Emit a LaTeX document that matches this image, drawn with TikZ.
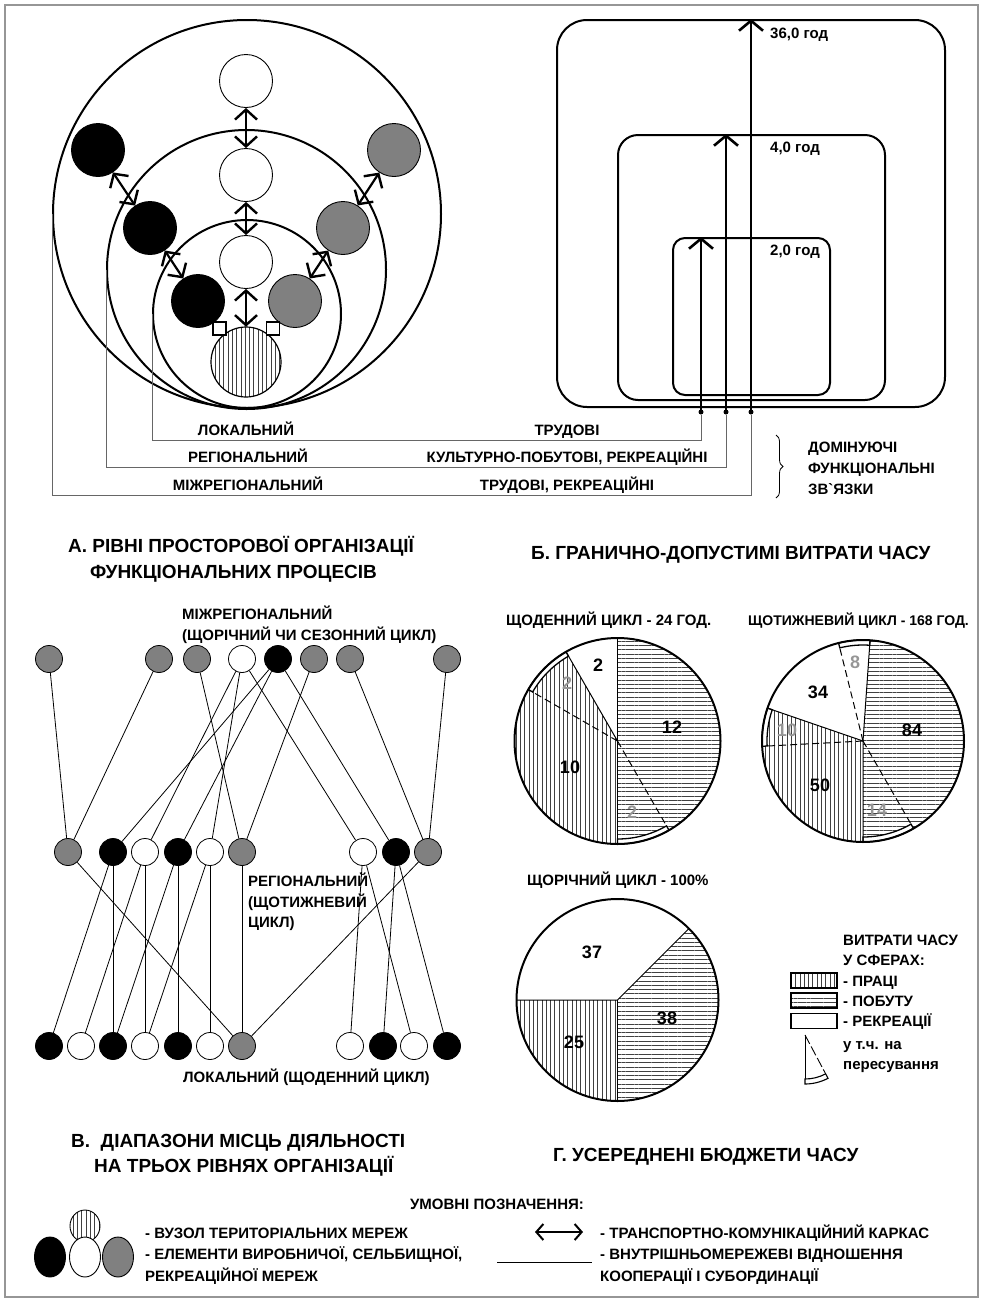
\documentclass[tikz,border=0pt]{standalone}
\usepackage{fontspec}
\setmainfont{Liberation Sans}
\usetikzlibrary{arrows.meta,patterns.meta,decorations.pathreplacing,calc,shapes.geometric}
\definecolor{nodegray}{RGB}{128,128,128}
\definecolor{framegray}{RGB}{150,150,150}
\definecolor{numgray}{RGB}{150,150,150}
\newcommand\lblfont{\fontsize{15}{17}\selectfont\bfseries}
\newcommand\smlfont{\fontsize{14}{16}\selectfont\bfseries}
\newcommand\headfont{\fontsize{19}{22}\selectfont\bfseries}
\newcommand\numfont{\fontsize{18}{20}\selectfont\bfseries}
\tikzset{
 vpat/.style={pattern={Lines[angle=90,distance=4.3pt,line width=0.55pt]}, pattern color=black!75},
 hpat/.style={pattern={Lines[angle=0,distance=4.3pt,line width=0.55pt]}, pattern color=black!75},
 bigc/.style={circle, draw, line width=2pt, inner sep=0pt},
 smw/.style={circle, draw, line width=0.9pt, fill=white, minimum size=53pt, inner sep=0pt},
 smb/.style={smw, fill=black},
 smg/.style={smw, fill=nodegray},
 hubc/.style={circle, draw, line width=1.2pt, minimum size=70pt, inner sep=0pt, vpat},
 dbl/.style={line width=2.2pt, {Straight Barb[length=10pt,width=22pt,line width=2.4pt]}-{Straight Barb[length=10pt,width=22pt,line width=2.4pt]}},
 sqn/.style={draw, line width=1.8pt, fill=white, minimum size=13pt, inner sep=0pt},
 rbox/.style={draw, line width=2pt, inner sep=0pt},
 uparr/.style={line width=2.6pt, -{Straight Barb[length=10pt,width=24pt,line width=2.6pt]}},
 dotn/.style={circle, fill=black, minimum size=5pt, inner sep=0pt},
 conn/.style={line width=0.9pt, black!60},
 lbl/.style={font=\lblfont, inner sep=0pt, text height=11pt, text depth=0pt},
 lblw/.style={lbl, anchor=west},
 slblw/.style={lblw, font=\smlfont},
 head/.style={font=\headfont, inner sep=0pt, text height=13.5pt, text depth=0pt, anchor=west},
 num/.style={font=\numfont, inner sep=0pt, text height=13pt, text depth=0pt},
 gnum/.style={num, text=numgray},
 nw/.style={circle, draw, line width=0.8pt, fill=white, minimum size=27pt, inner sep=0pt},
 nb/.style={nw, fill=black},
 ng/.style={nw, fill=nodegray},
 net/.style={line width=0.8pt},
 pieline/.style={line width=1pt},
 piedash/.style={line width=1pt, dash pattern=on 7pt off 4pt},
 band/.style={line width=1.3pt, fill=white},
 pierim/.style={line width=2pt},
 ell/.style={ellipse, draw, line width=0.9pt, inner sep=0pt},
}
\begin{document}
\begin{tikzpicture}[x=1pt,y=-1pt]
\useasboundingbox (0,0) rectangle (981,1299);
\draw[framegray, line width=1.5pt] (5,5) rectangle (978,1297);

% ---------------- A: nested circles ----------------
\node[bigc, minimum size=388pt] (outerC) at (247,214) {};
\node[bigc, minimum size=279pt] (midC) at (246.5,269.5) {};
\node[bigc, minimum size=188pt] (innC) at (247,314) {};

\node[smw] (w1) at (246,81) {};
\node[smw] (w2) at (246,175) {};
\node[smw] (w3) at (246,262) {};
\node[hubc] (hub) at (246,362) {};
\node[smb] (b1) at (98,150) {};
\node[smb] (b2) at (150,228) {};
\node[smb] (b3) at (198,301) {};
\node[smg] (g1) at (394,150) {};
\node[smg] (g2) at (343,228) {};
\node[smg] (g3) at (295,301) {};

\draw[dbl] (w1) -- (w2);
\draw[dbl] (w2) -- (w3);
\draw[dbl] (w3) -- (hub);
\draw[dbl] (b1) -- (b2);
\draw[dbl] (b2) -- (b3);
\draw[dbl] (g1) -- (g2);
\draw[dbl] (g2) -- (g3);
\draw[line width=1.8pt] (b3) -- (hub);
\draw[line width=1.8pt] (g3) -- (hub);
\node[sqn] (sq1) at ($(hub)!43pt!(b3)$) {};
\node[sqn] (sq2) at ($(hub)!43pt!(g3)$) {};

% ---------------- Б: time boxes ----------------
\node[rbox, rounded corners=30pt, minimum width=388pt, minimum height=387pt] (outR) at (751,213.5) {};
\node[rbox, rounded corners=20pt, minimum width=267pt, minimum height=265pt] (midR) at (751.5,267.5) {};
\node[rbox, rounded corners=12pt, minimum width=157pt, minimum height=157pt] (innR) at (751.5,316.5) {};

\node[dotn] (d1) at (701,412) {};
\node[dotn] (d2) at (726,412) {};
\node[dotn] (d3) at (751,412) {};
\draw[uparr] (d1.center) -- (d1 |- innR.north);
\draw[uparr] (d2.center) -- (d2 |- midR.north);
\draw[uparr] (d3.center) -- (d3 |- outR.north);

\node[lblw] (t36) at (770,33) {36,0 год};
\node[lblw] (t4) at (770,147) {4,0 год};
\node[lblw] (t2) at (770,250) {2,0 год};

% connectors from circles to the boxes
\coordinate (k1) at (701,440);
\coordinate (k2) at (726,467);
\coordinate (k3) at (751,495);
\draw[conn] (innC.west) -- (innC.west |- k1) -- (k1) -- (d1);
\draw[conn] (midC.west) -- (midC.west |- k2) -- (k2) -- (d2);
\draw[conn] (outerC.west) -- (outerC.west |- k3) -- (k3) -- (d3);

\node[lbl] (lv1) at (246,430) {ЛОКАЛЬНИЙ};
\node[lbl] (lv2) at (248,457) {РЕГІОНАЛЬНИЙ};
\node[lbl] (lv3) at (248,485) {МІЖРЕГІОНАЛЬНИЙ};
\node[lbl] (fn1) at (567,430) {ТРУДОВІ};
\node[lbl] (fn2) at (567,457) {КУЛЬТУРНО-ПОБУТОВІ, РЕКРЕАЦІЙНІ};
\node[lbl] (fn3) at (567,485) {ТРУДОВІ, РЕКРЕАЦІЙНІ};

\coordinate (br1) at (776,435);
\coordinate (br2) at (776,498);
\draw[line width=0.8pt, decorate, decoration={brace, amplitude=7pt}] (br1) -- (br2);
\node[lblw] (dm1) at (808,447) {ДОМІНУЮЧІ};
\node[lblw] (dm2) at (808,468) {ФУНКЦІОНАЛЬНІ};
\node[lblw] (dm3) at (808,489) {ЗВ\textasciigrave ЯЗКИ};

% headings
\node[head] (hA1) at (68,546) {А. РІВНІ ПРОСТОРОВОЇ ОРГАНІЗАЦІЇ};
\node[head] (hA2) at (90,572) {ФУНКЦІОНАЛЬНИХ ПРОЦЕСІВ};
\node[head] (hB) at (531,553) {Б. ГРАНИЧНО-ДОПУСТИМІ ВИТРАТИ ЧАСУ};

% ---------------- В: network ----------------
\foreach \n/\x/\s in {t1/49/ng, t2/159/ng, t3/197/ng, t4/242/nw, t5/278/nb, t6/314/ng, t7/350/ng, t8/447/ng}
  \node[\s] (\n) at (\x,659) {};
\foreach \n/\x/\s in {m1/68/ng, m2/113/nb, m3/145/nw, m4/178/nb, m5/210/nw, m6/242/ng, m7/363/nw, m8/396/nb, m9/428/ng}
  \node[\s] (\n) at (\x,852) {};
\foreach \n/\x/\s in {l1/49/nb, l2/81/nw, l3/113/nb, l4/145/nw, l5/178/nb, l6/210/nw, l7/242/ng, l8/350/nw, l9/383/nb, l10/414/nw, l11/447/nb}
  \node[\s] (\n) at (\x,1046) {};
\foreach \a/\b in {t1/m1, t2/m1, t3/m6, t4/m3, t4/m5, t4/m7, t5/m2, t5/m4, t5/m8, t6/m6, t7/m9, t8/m9,
  m1/l7, m2/l1, m2/l3, m3/l2, m3/l4, m4/l3, m4/l5, m5/l4, m5/l6, m6/l7, m9/l7, m7/l8, m7/l10, m8/l9, m8/l11}
  \draw[net] (\a) -- (\b);

\node[lblw] (nA) at (182,614) {МІЖРЕГІОНАЛЬНИЙ};
\node[lblw] (nB) at (182,635) {(ЩОРІЧНИЙ ЧИ СЕЗОННИЙ ЦИКЛ)};
\node[lblw] (nC) at (248,881) {РЕГІОНАЛЬНИЙ};
\node[lblw] (nD) at (248,902) {(ЩОТИЖНЕВИЙ};
\node[lblw] (nE) at (248,922) {ЦИКЛ)};
\node[lblw] (nF) at (183,1077) {ЛОКАЛЬНИЙ (ЩОДЕННИЙ ЦИКЛ)};

% ---------------- Г: pies ----------------
\node[lblw] (p1t) at (506,620) {ЩОДЕННИЙ ЦИКЛ - 24 ГОД.};
\node[slblw] (p2t) at (748,620) {ЩОТИЖНЕВИЙ ЦИКЛ - 168 ГОД.};
\node[lblw] (p3t) at (527,880) {ЩОРІЧНИЙ ЦИКЛ - 100\%};

% pie 1
\begin{scope}[shift={(617.5,741)}, yscale=-1]
  \fill[hpat] (0,0) -- (-90:103) arc[start angle=-90, end angle=90, radius=103] -- cycle;
  \fill[vpat] (0,0) -- (120:103) arc[start angle=120, end angle=270, radius=103] -- cycle;
  \filldraw[band] (120:103) arc[start angle=120, end angle=150, radius=103] -- (150:98) arc[start angle=150, end angle=120, radius=98] -- cycle;
  \filldraw[band] (-90:103) arc[start angle=-90, end angle=-60, radius=103] -- (-60:98) arc[start angle=-60, end angle=-90, radius=98] -- cycle;
  \draw[pieline] (90:103) -- (0,0) -- (270:103);
  \draw[pieline] (0,0) -- (120:103);
  \draw[piedash] (0,0) -- (150:98);
  \draw[piedash] (0,0) -- (-60:98);
  \draw[pierim] (0,0) circle[radius=103];
\end{scope}
\node[num] (p1a) at (672,727) {12};
\node[gnum] (p1b) at (632,812) {2};
\node[num] (p1c) at (570,767) {10};
\node[gnum] (p1d) at (567,683) {2};
\node[num] (p1e) at (598,665) {2};

% pie 2
\begin{scope}[shift={(863,741)}, yscale=-1]
  \fill[hpat] (0,0) -- (-90:101) arc[start angle=-90, end angle=86, radius=101] -- cycle;
  \fill[vpat] (0,0) -- (161:101) arc[start angle=161, end angle=270, radius=101] -- cycle;
  \filldraw[band] (86:101) arc[start angle=86, end angle=104, radius=101] -- (104:96) arc[start angle=104, end angle=86, radius=96] -- cycle;
  \filldraw[band] (161:101) arc[start angle=161, end angle=183, radius=101] -- (183:96) arc[start angle=183, end angle=161, radius=96] -- cycle;
  \filldraw[band] (-90:101) arc[start angle=-90, end angle=-60, radius=101] -- (-60:96) arc[start angle=-60, end angle=-90, radius=96] -- cycle;
  \draw[pieline] (86:101) -- (0,0) -- (270:101);
  \draw[pieline] (0,0) -- (161:101);
  \draw[piedash] (0,0) -- (104:96);
  \draw[piedash] (0,0) -- (183:96);
  \draw[piedash] (0,0) -- (-60:96);
  \draw[pierim] (0,0) circle[radius=101];
\end{scope}
\node[num] (p2a) at (912,730) {84};
\node[num] (p2b) at (818,692) {34};
\node[gnum] (p2c) at (855,662) {8};
\node[gnum] (p2d) at (787,730) {10};
\node[num] (p2e) at (820,785) {50};
\node[gnum] (p2f) at (877,810) {14};

% pie 3
\begin{scope}[shift={(617.5,1000)}, yscale=-1]
  \fill[vpat] (0,0) -- (180:101) arc[start angle=180, end angle=270, radius=101] -- cycle;
  \fill[hpat] (0,0) -- (-90:101) arc[start angle=-90, end angle=45, radius=101] -- cycle;
  \draw[pieline] (45:101) -- (0,0) -- (180:101);
  \draw[pieline] (0,0) -- (270:101);
  \draw[pierim] (0,0) circle[radius=101];
\end{scope}
\node[num] (p3a) at (592,952) {37};
\node[num] (p3b) at (667,1018) {38};
\node[num] (p3c) at (574,1042) {25};

% legend of pies
\node[lblw] (lg1) at (843,940) {ВИТРАТИ ЧАСУ};
\node[lblw] (lg2) at (843,960) {У СФЕРАХ:};
\node[draw, line width=1.2pt, minimum width=46pt, minimum height=15pt, inner sep=0pt, vpat] (bx1) at (814,980.5) {};
\node[draw, line width=1.2pt, minimum width=46pt, minimum height=15pt, inner sep=0pt, hpat] (bx2) at (814,1000.5) {};
\node[draw, line width=1.2pt, minimum width=46pt, minimum height=15pt, inner sep=0pt] (bx3) at (814,1021) {};
\node[lblw] (lg3) at (843,981) {- ПРАЦІ};
\node[lblw] (lg4) at (843,1001) {- ПОБУТУ};
\node[lblw] (lg5) at (843,1021) {- РЕКРЕАЦІЇ};
\node[lblw] (lg6) at (843,1044) {у т.ч. на};
\node[lblw] (lg7) at (843,1064) {пересування};
\begin{scope}[shift={(805,1035)}, yscale=-1]
  \draw[line width=0.9pt] (0,0) -- (-90:44);
  \draw[line width=0.9pt, dash pattern=on 10pt off 3pt] (0,0) -- (-62:44);
  \filldraw[band, line width=1.1pt] (-90:49) arc[start angle=-90, end angle=-62, radius=49] -- (-62:44) arc[start angle=-62, end angle=-90, radius=44] -- cycle;
\end{scope}

% ---------------- bottom headings & legend ----------------
\node[head] (hV1) at (71,1141) {В.\ \ ДІАПАЗОНИ МІСЦЬ ДІЯЛЬНОСТІ};
\node[head] (hV2) at (94,1166) {НА ТРЬОХ РІВНЯХ ОРГАНІЗАЦІЇ};
\node[head] (hG) at (553,1155) {Г. УСЕРЕДНЕНІ БЮДЖЕТИ ЧАСУ};
\node[lbl] (um) at (497,1204) {УМОВНІ ПОЗНАЧЕННЯ:};

\node[ell, minimum width=30pt, minimum height=32pt, vpat] (eh) at (85,1226) {};
\node[ell, fill=black, minimum width=31pt, minimum height=40pt] (eb) at (50,1257) {};
\node[ell, fill=white, minimum width=31pt, minimum height=40pt] (ew) at (85,1257) {};
\node[ell, fill=nodegray, minimum width=31pt, minimum height=40pt] (eg) at (118,1257) {};
\node[lblw] (le1) at (145,1233) {- ВУЗОЛ ТЕРИТОРІАЛЬНИХ МЕРЕЖ};
\node[lblw] (le2) at (145,1254) {- ЕЛЕМЕНТИ ВИРОБНИЧОЇ, СЕЛЬБИЩНОЇ,};
\node[lblw] (le3) at (145,1276) {РЕКРЕАЦІЙНОЇ МЕРЕЖ};

\coordinate (aa) at (535,1232);
\coordinate (ab) at (583,1232);
\draw[line width=1.8pt, {Straight Barb[length=7pt,width=16pt,line width=2pt]}-{Straight Barb[length=7pt,width=16pt,line width=2pt]}] (aa) -- (ab);
\coordinate (la) at (497,1262);
\coordinate (lb) at (592,1262);
\draw[line width=1pt] (la) -- (lb);
\node[lblw] (le4) at (600,1233) {- ТРАНСПОРТНО-КОМУНІКАЦІЙНИЙ КАРКАС};
\node[lblw] (le5) at (600,1254) {- ВНУТРІШНЬОМЕРЕЖЕВІ ВІДНОШЕННЯ};
\node[lblw] (le6) at (600,1276) {КООПЕРАЦІЇ І СУБОРДИНАЦІЇ};
\end{tikzpicture}
\end{document}
